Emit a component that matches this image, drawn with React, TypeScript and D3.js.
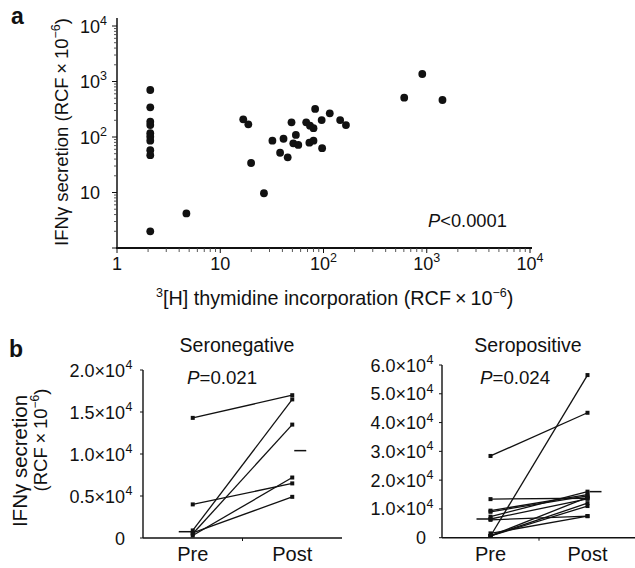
import React from 'react';
import * as d3 from 'd3';

// ---------- Panel a data ----------
const scatterX = [2.1, 2.1, 2.1, 2.1, 2.1, 2.1, 2.1, 2.1, 2.1, 2.1,
  4.7, 16.7, 18.7, 19.9, 26.5, 32, 41, 38, 45, 49, 54, 51, 57, 68, 74, 80, 83, 73, 80, 97, 96, 115, 145, 165,
  605, 905, 1420];
const scatterY = [703, 343, 189, 164, 117, 101, 86, 58, 47, 2.0,
  4.2, 208, 169, 34, 9.7, 86, 93, 52, 43, 184, 109, 77, 72, 184, 160, 144, 320, 79, 86, 63, 202, 267, 202, 164,
  511, 1365, 464];
const logTicks = [1, 10, 100, 1000, 10000];
const logTickBase = ['1', '10', '10', '10', '10'];
const logTickSup = ['', '', '2', '3', '4'];

// ---------- Panel b data ----------
const groups = ['Pre', 'Post'];
const negPre = [14300, 4000, 900, 500, 300, 600];
const negPost = [17000, 6500, 16500, 13500, 7200, 4900];
const negMedian = [750, 10400];
const negTicks = [0, 5000, 10000, 15000, 20000];
const negTickBase = ['0', '0.5×10', '1.0×10', '1.5×10', '2.0×10'];

const posPre = [28400, 600, 13400, 9400, 7300, 6200, 9000, 600, 600, 600, 6500, 1500];
const posPost = [43400, 56500, 13700, 15000, 16000, 7500, 14500, 12000, 11000, 14000, 13500, 7500];
const posMedian = [6500, 16000];
const posTicks = [0, 10000, 20000, 30000, 40000, 50000, 60000];
const posTickBase = ['0', '1.0×10', '2.0×10', '3.0×10', '4.0×10', '5.0×10', '6.0×10'];

const FONT = '"Liberation Sans", Arial, Helvetica, sans-serif';
const INK = '#111';

function PairPanel(props: {
  pre: number[]; post: number[]; median: number[]; ticks: number[]; tickBase: string[];
  yMax: number; yTop: number; yBottom: number; xLeft: number; xRight: number; labelEnd: number;
  title: string; titleX: number; pText: string; pX: number;
}) {
  const { pre, post, median, ticks, tickBase, yMax, yTop, yBottom, xLeft, xRight, labelEnd, title, titleX, pText, pX } = props;
  const y = d3.scaleLinear().domain([0, yMax]).range([yBottom, yTop]);
  const x = d3.scaleBand().domain(groups).range([xLeft, xRight]);
  const cx = (g: string) => (x(g) as number) + x.bandwidth() / 2;
  const line = d3.line<[number, number]>().x(d => d[0]).y(d => d[1]);
  return (
    <g>
      <text x={titleX} y={352} textAnchor="middle" fontSize={19.5}>{title}</text>
      <text x={pX} y={384} fontSize={18.7}><tspan fontStyle="italic">P</tspan>{pText}</text>
      <line x1={xLeft} x2={xLeft} y1={y(yMax)} y2={yBottom} stroke={INK} strokeWidth={1.4} />
      <line x1={xLeft} x2={xRight} y1={yBottom} y2={yBottom} stroke={INK} strokeWidth={1.6} />
      <line x1={xLeft + x.bandwidth()} x2={xLeft + x.bandwidth()} y1={yBottom} y2={yBottom + 3} stroke={INK} strokeWidth={1} />
      {ticks.map((t, i) => (
        <g key={i}>
          <line x1={xLeft - 3} x2={xLeft} y1={y(t)} y2={y(t)} stroke={INK} strokeWidth={1} />
          <text x={labelEnd} y={y(t) + 6.5} textAnchor="end" fontSize={18}>{tickBase[i]}</text>
          {t !== 0 && <text x={labelEnd + 0.5} y={y(t) - 1} fontSize={12.5}>4</text>}
        </g>
      ))}
      {groups.map(g => (
        <text key={g} x={cx(g)} y={561} textAnchor="middle" fontSize={20}>{g}</text>
      ))}
      {pre.map((v, i) => (
        <path key={i} d={line([[cx('Pre'), y(v)], [cx('Post'), y(post[i])]]) as string}
          fill="none" stroke={INK} strokeWidth={1.3} />
      ))}
      {pre.map((v, i) => (
        <rect key={'a' + i} x={cx('Pre') - 2} y={y(v) - 2} width={4} height={4} fill={INK} />
      ))}
      {post.map((v, i) => (
        <rect key={'b' + i} x={cx('Post') - 2} y={y(v) - 2} width={4} height={4} fill={INK} />
      ))}
      <line x1={cx('Pre') - 14} x2={cx('Pre')} y1={y(median[0])} y2={y(median[0])} stroke={INK} strokeWidth={1.5} />
      <line x1={cx('Post') + 2} x2={cx('Post') + 14} y1={y(median[1])} y2={y(median[1])} stroke={INK} strokeWidth={1.5} />
    </g>
  );
}

export default function App() {
  const xA = d3.scaleLog().domain([1, 1e4]).range([117, 530]);
  const yA = d3.scaleLog().domain([1, 1e4]).range([248, 26]);
  const minor: number[] = [];
  for (let e = 0; e < 4; e++) for (let m = 2; m <= 9; m++) minor.push(m * Math.pow(10, e));

  return (
    <svg width={635} height={568} style={{ position: 'absolute', left: 0, top: 0, background: '#fff' }}
      fontFamily={FONT} fill={INK}>
      <rect width={635} height={568} fill="#fff" />
      {/* ---------- Panel a ---------- */}
      <text x={11} y={24} fontSize={23} fontWeight="bold">a</text>
      <line x1={117} x2={117} y1={18} y2={248} stroke={INK} strokeWidth={1.5} />
      <line x1={116} x2={532} y1={248} y2={248} stroke={INK} strokeWidth={2} />
      {minor.map((m, i) => (
        <g key={i}>
          <line x1={xA(m)} x2={xA(m)} y1={248} y2={252} stroke="#444" strokeWidth={0.9} />
          <line x1={114} x2={117} y1={yA(m)} y2={yA(m)} stroke="#444" strokeWidth={0.9} />
        </g>
      ))}
      {logTicks.map((t, i) => (
        <g key={i}>
          <line x1={xA(t)} x2={xA(t)} y1={248} y2={253} stroke={INK} strokeWidth={1} />
          <line x1={112} x2={117} y1={yA(t)} y2={yA(t)} stroke={INK} strokeWidth={1} />
          <text x={xA(t)} y={270} textAnchor="middle" fontSize={18}>
            {logTickBase[i]}
            {logTickSup[i] && <tspan dy={-8} fontSize={12.5}>{logTickSup[i]}</tspan>}
          </text>
          {t > 1 && (
            <text x={80} y={yA(t) + 6.5} fontSize={18}>
              {logTickBase[i]}
              {logTickSup[i] && <tspan dy={-8} fontSize={12.5}>{logTickSup[i]}</tspan>}
            </text>
          )}
        </g>
      ))}
      {scatterX.map((v, i) => (
        <circle key={i} cx={xA(v)} cy={yA(scatterY[i])} r={3.9} fill={INK} />
      ))}
      <text x={428} y={227} fontSize={18.3}><tspan fontStyle="italic">P</tspan>{'<0.0001'}</text>
      <text x={156} y={305} fontSize={19.8}>
        <tspan dy={-8} fontSize={12.5}>3</tspan>
        <tspan dy={8}>{'[H] thymidine incorporation (RCF\u2009×\u200910'}</tspan>
        <tspan dy={-8} fontSize={12.5}>−6</tspan>
        <tspan dy={8}>)</tspan>
      </text>
      <text transform="translate(68,132) rotate(-90)" textAnchor="middle" fontSize={18.5}>
        {'IFNγ secretion (RCF\u2009×\u200910'}<tspan dy={-8} fontSize={12.5}>−6</tspan><tspan dy={8}>)</tspan>
      </text>

      {/* ---------- Panel b ---------- */}
      <text x={9} y={357} fontSize={23} fontWeight="bold">b</text>
      <text transform="translate(27,461) rotate(-90)" textAnchor="middle" fontSize={20.5}>IFNγ secretion</text>
      <text transform="translate(47,440) rotate(-90)" textAnchor="middle" fontSize={18.5}>
        {'(RCF\u2009×\u200910'}<tspan dy={-8} fontSize={12}>−6</tspan><tspan dy={8}>)</tspan>
      </text>
      <PairPanel pre={negPre} post={negPost} median={negMedian} ticks={negTicks} tickBase={negTickBase}
        yMax={20000} yTop={370} yBottom={538} xLeft={143} xRight={342} labelEnd={125}
        title="Seronegative" titleX={237} pText="=0.021" pX={187} />
      <PairPanel pre={posPre} post={posPost} median={posMedian} ticks={posTicks} tickBase={posTickBase}
        yMax={60000} yTop={365} yBottom={537.7} xLeft={442} xRight={636} labelEnd={426}
        title="Seropositive" titleX={528} pText="=0.024" pX={480} />
    </svg>
  );
}
